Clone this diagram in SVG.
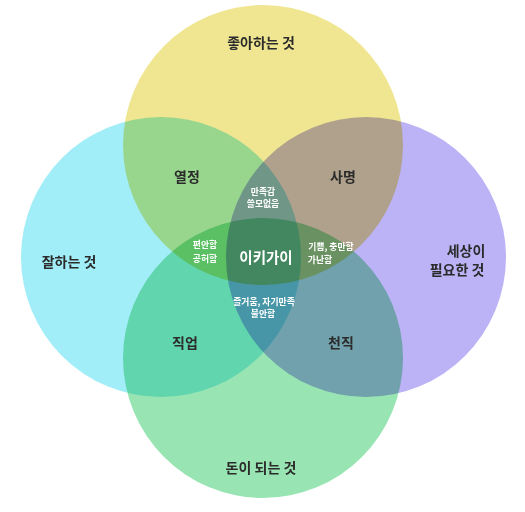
<svg xmlns="http://www.w3.org/2000/svg" width="525" height="512" viewBox="0 0 525 512">
<style>
.c{mix-blend-mode:multiply}
text{font-family:"Noto Sans CJK KR","Noto Sans",sans-serif;text-anchor:middle}
.lbl{font-size:14px;font-weight:700;fill:#2b2b2b}
.sm{font-size:8.8px;font-weight:700;fill:#ffffff}
.ctr{font-size:14.5px;font-weight:700;fill:#ffffff}
</style>
<rect width="525" height="512" fill="#ffffff"/>
<g id="circles" style="isolation:isolate">
<g id="love"><circle class="c" cx="263" cy="145" r="140" fill="#F0E692"/></g>
<g id="good"><circle class="c" cx="161" cy="257" r="140" fill="#A2EEF8"/></g>
<g id="need"><circle class="c" cx="366" cy="257" r="140" fill="#BBB3F5"/></g>
<g id="paid"><circle class="c" cx="263" cy="358" r="140" fill="#98E5B3"/></g>
</g>
<g id="labels">
<text class="lbl" x="261" y="48">좋아하는 것</text>
<text class="lbl" x="69" y="267">잘하는 것</text>
<text class="lbl" x="466" y="256">세상이</text>
<text class="lbl" x="457" y="275">필요한 것</text>
<text class="lbl" x="261" y="473">돈이 되는 것</text>
<text class="lbl" x="187" y="182">열정</text>
<text class="lbl" x="343" y="182">사명</text>
<text class="lbl" x="185" y="348">직업</text>
<text class="lbl" x="341" y="348">천직</text>
<text class="sm" x="263" y="195">만족감</text>
<text class="sm" x="263" y="207">쓸모없음</text>
<text class="sm" x="205" y="248">편안함</text>
<text class="sm" x="205" y="262">공허함</text>
<text class="sm" x="331" y="250">기쁨, 충만함</text>
<text class="sm" x="320" y="263">가난함</text>
<text class="sm" x="264" y="305">즐거움, 자기만족</text>
<text class="sm" x="263" y="317">불안함</text>
<text class="ctr" x="266" y="263">이키가이</text>
</g>
</svg>
